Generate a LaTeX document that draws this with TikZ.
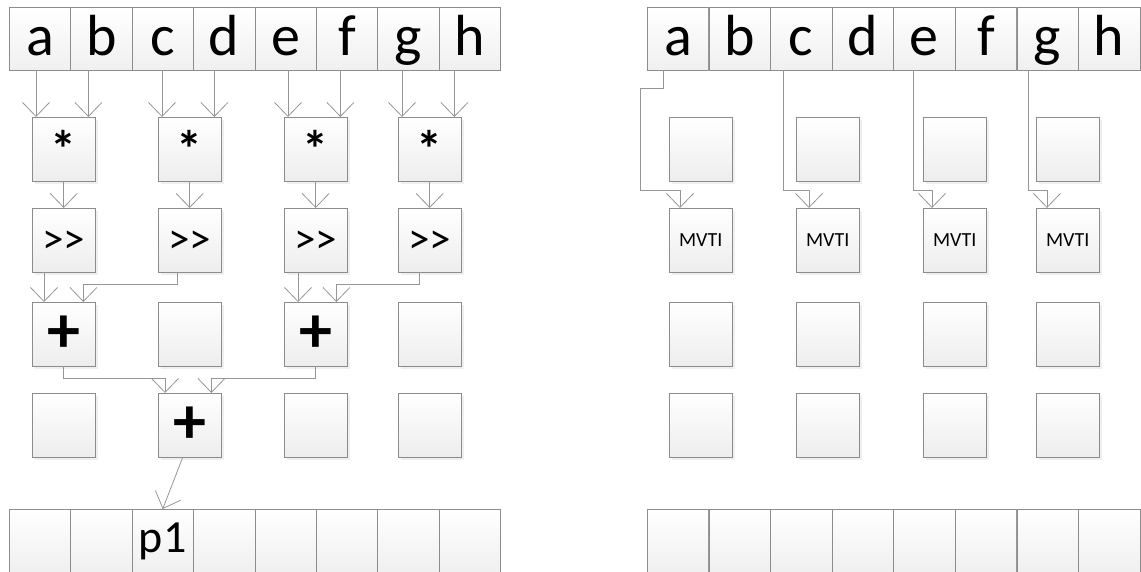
\documentclass[tikz,border=0pt]{standalone}
\usepackage{fontspec}
\setmainfont{Carlito}
\usepackage{xcolor}
\usepackage{tikz}
\usetikzlibrary{positioning,arrows.meta,shadows}

\definecolor{boxline}{RGB}{140,140,140}
\definecolor{flowline}{RGB}{150,150,150}

\begin{document}
\begin{tikzpicture}[
  x=1pt, y=-1pt,
  cell/.style={draw=boxline, top color=white, bottom color=black!6, anchor=north west,
    minimum width=61.4pt, minimum height=63pt, inner sep=0pt,
    text height=41pt, text depth=8pt, font=\fontsize{58}{58}\selectfont},
  op/.style={draw=boxline, top color=white, bottom color=black!7, anchor=north west,
    minimum width=63pt, minimum height=64pt, inner sep=0pt,
    drop shadow={shadow xshift=2.5pt, shadow yshift=-2.5pt, fill=black!12},
    text height=34pt, text depth=8pt, font=\fontsize{43}{43}\selectfont},
  star/.style={op, text height=, text depth=, font=\fontsize{52}{52}\selectfont\bfseries},
  plus/.style={op, text height=, text depth=, font=\fontsize{66}{66}\selectfont\bfseries},
  mvti/.style={op, text height=, text depth=, font=\fontsize{20}{20}\selectfont},
  flow/.style={draw=flowline, line width=0.8pt, -{Straight Barb[length=14pt, width=27pt]}}
]
\useasboundingbox (0,0) rectangle (1141,572);

% input and output rows
\foreach \l [count=\i from 0] in {a,b,c,d,e,f,g,h} {
  \node[cell] (l\l) at ({9+61.4*\i},7) {\l};
  \node[cell] (r\l) at ({647+61.6*\i},7) {\l};
  \node[cell] (lp\the\numexpr\i+1\relax) at ({9+61.4*\i},509) {};
  \node[cell] (rp\the\numexpr\i+1\relax) at ({647+61.6*\i},509) {};
}
\node[font=\fontsize{46}{46}\selectfont, text height=31pt, text depth=8pt] (p1) at (lp3) {p1};

% left: reduction tree
\node[star] (mul1) at (32,117) {*};
\node[star] (mul2) at (158,117) {*};
\node[star] (mul3) at (284,117) {*};
\node[star] (mul4) at (398,117) {*};
\node[op] (shr1) at (32,208) {>{}>};
\node[op] (shr2) at (158,208) {>{}>};
\node[op] (shr3) at (284,208) {>{}>};
\node[op] (shr4) at (398,208) {>{}>};
\node[plus] (add1) at (32,302) {+};
\node[op] (lx2) at (158,302) {};
\node[plus] (add3) at (284,302) {+};
\node[op] (lx4) at (398,302) {};
\node[op] (ly1) at (32,393) {};
\node[plus] (add2) at (158,393) {+};
\node[op] (ly3) at (284,393) {};
\node[op] (ly4) at (398,393) {};

\foreach \m/\p/\q in {1/a/b,2/c/d,3/e/f,4/g/h} {
  \draw[flow] ([xshift=4pt]mul\m.north west |- l\p.south) -- ([xshift=4pt]mul\m.north west);
  \draw[flow] ([xshift=-7pt]mul\m.north east |- l\q.south) -- ([xshift=-7pt]mul\m.north east);
  \draw[flow] (mul\m) -- (shr\m);
}
\draw[flow] ([xshift=12pt]add1.north west |- shr1.south) -- ([xshift=12pt]add1.north west);
\draw[flow] ([xshift=19pt]shr2.south west) -- ++(0,12) -| ([xshift=-12pt]add1.north east);
\draw[flow] ([xshift=14pt]add3.north west |- shr3.south) -- ([xshift=14pt]add3.north west);
\draw[flow] ([xshift=21pt]shr4.south west) -- ++(0,12) -| ([xshift=-11pt]add3.north east);
\draw[flow] (add1.south) -- ++(0,12) -| ([xshift=7pt]add2.north west);
\draw[flow] (add3.south) -- ++(0,12) -| ([xshift=-10pt]add2.north east);
\draw[flow] ([xshift=-7pt]add2.south) -- (lp3.north);

% right: moves
\foreach \k/\x in {1/669,2/796,3/923,4/1036} {
  \node[op] (rx\k) at (\x,117) {};
  \node[mvti] (mv\k) at (\x,208) {MVTI};
  \node[op] (ry\k) at (\x,302) {};
  \node[op] (rz\k) at (\x,393) {};
}
\draw[flow] ([xshift=-15pt]ra.south) -- ++(0,18) -- ++(-23,0)
  |- ([xshift=11pt, yshift=18pt]mv1.north west) -- ([xshift=11pt]mv1.north west);
\foreach \c/\k/\dx/\dy in {c/2/-18/13, e/3/-11/9, g/4/-19/11} {
  \draw[flow] ([xshift=\dx pt]r\c.south) |- ([xshift=\dy pt, yshift=18pt]mv\k.north west)
    -- ([xshift=\dy pt]mv\k.north west);
}
\end{tikzpicture}
\end{document}
